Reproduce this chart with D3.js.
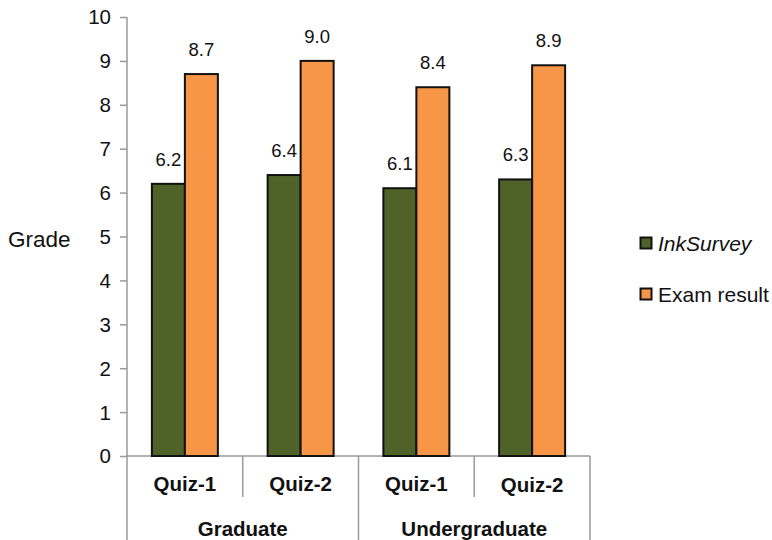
<!DOCTYPE html>
<html>
<head>
<meta charset="utf-8">
<script src="https://cdn.jsdelivr.net/npm/d3@7"></script>
<style>
  html, body { margin: 0; padding: 0; background: #fff; }
  svg { display: block; font-family: "Liberation Sans", Arial, sans-serif; }
</style>
</head>
<body>
<svg id="chart" width="772" height="540"></svg>
<script>
// Grades per quiz, grouped by student level
const groups = ["Graduate", "Undergraduate"];
const quizzes = ["Quiz-1", "Quiz-2"];
const categories = ["Graduate|Quiz-1", "Graduate|Quiz-2", "Undergraduate|Quiz-1", "Undergraduate|Quiz-2"];
const seriesNames = ["InkSurvey", "Exam result"];
const inkSurvey = [6.2, 6.4, 6.1, 6.3];
const examResult = [8.7, 9.0, 8.4, 8.9];
const yTicks = [0, 1, 2, 3, 4, 5, 6, 7, 8, 9, 10];
const colors = ["#4f6228", "#f79646"];

const svg = d3.select("#chart");
const plotLeft = 127, plotRight = 590, plotTop = 17, base = 456;

const x = d3.scaleBand().domain(categories).range([plotLeft, plotRight]).paddingInner(0).paddingOuter(0);
const xs = d3.scaleBand().domain(seriesNames).range([0, 66]);
const y = d3.scaleLinear().domain([0, 10]).range([base, plotTop]);

const axisColor = "#9a9a9a";
const ink = "#111";

// y axis
const yAxis = d3.axisLeft(y).tickValues(yTicks).tickSize(7).tickPadding(9).tickFormat(d3.format("d"));
const ya = svg.append("g").attr("transform", `translate(${plotLeft},0)`).call(yAxis);
ya.select(".domain").remove();
ya.selectAll(".tick line").attr("stroke", axisColor).attr("stroke-width", 1.5);
ya.selectAll(".tick text").attr("font-size", 20.5).attr("fill", ink)
  .attr("font-family", "Liberation Sans, Arial, sans-serif").attr("dy", "0.34em");
svg.append("line").attr("x1", plotLeft).attr("x2", plotLeft).attr("y1", plotTop).attr("y2", 540)
  .attr("stroke", axisColor).attr("stroke-width", 1.5);

// baseline and category dividers
svg.append("line").attr("x1", plotLeft).attr("x2", plotRight).attr("y1", base).attr("y2", base)
  .attr("stroke", axisColor).attr("stroke-width", 1.5);
categories.forEach((c, i) => {
  if (i === 0) return;
  const xx = x(c);
  const full = i % 2 === 0;
  svg.append("line").attr("x1", xx).attr("x2", xx).attr("y1", base).attr("y2", full ? 540 : 497)
    .attr("stroke", axisColor).attr("stroke-width", 1.5);
});
svg.append("line").attr("x1", plotRight).attr("x2", plotRight).attr("y1", base).attr("y2", 540)
  .attr("stroke", axisColor).attr("stroke-width", 1.5);

// bars with value labels
const series = [inkSurvey, examResult];
series.forEach((vals, si) => {
  const g = svg.append("g");
  const bx = i => x(categories[i]) + (x.bandwidth() - 66) / 2 + xs(seriesNames[si]);
  g.selectAll("rect").data(vals).join("rect")
    .attr("x", (d, i) => bx(i))
    .attr("y", d => y(d))
    .attr("width", xs.bandwidth())
    .attr("height", d => base - y(d))
    .attr("fill", colors[si])
    .attr("stroke", ink)
    .attr("stroke-width", 2);
  g.selectAll("text").data(vals).join("text")
    .attr("x", (d, i) => bx(i) + xs.bandwidth() / 2)
    .attr("y", d => y(d) - 18)
    .attr("text-anchor", "middle")
    .attr("font-size", 18.5)
    .attr("fill", ink)
    .text(d => d.toFixed(1));
});

// category labels
categories.forEach((c, i) => {
  svg.append("text").attr("x", x(c) + x.bandwidth() / 2).attr("y", 491 + (i === 3 ? 1 : 0))
    .attr("text-anchor", "middle").attr("font-size", 20.5).attr("font-weight", "bold").attr("fill", ink)
    .text(quizzes[i % 2]);
});
groups.forEach((gname, gi) => {
  const x0 = x(categories[gi * 2]);
  const x1 = x(categories[gi * 2 + 1]) + x.bandwidth();
  svg.append("text").attr("x", (x0 + x1) / 2).attr("y", 536)
    .attr("text-anchor", "middle").attr("font-size", 20.5).attr("font-weight", "bold").attr("fill", ink)
    .text(gname);
});

// y axis title
svg.append("text").attr("x", 8).attr("y", 247).attr("font-size", 22.5).attr("fill", ink).text("Grade");

// legend
const legendY = [243, 294];
seriesNames.forEach((n, i) => {
  svg.append("rect").attr("x", 640.5).attr("y", legendY[i] - 5.5).attr("width", 11).attr("height", 11)
    .attr("fill", colors[i]).attr("stroke", ink).attr("stroke-width", 2);
  svg.append("text").attr("x", 658).attr("y", legendY[i] + 8).attr("font-size", 21).attr("fill", ink)
    .attr("font-style", i === 0 ? "italic" : "normal").text(n);
});
</script>
</body>
</html>
